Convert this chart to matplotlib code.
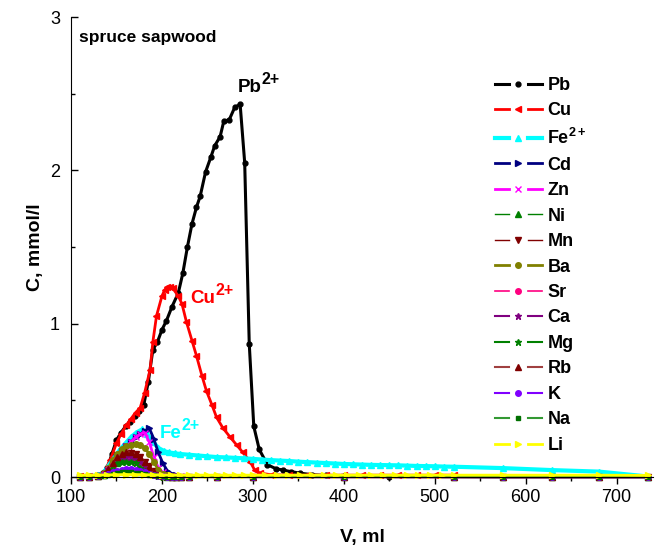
import matplotlib
matplotlib.use("Agg")
import matplotlib.pyplot as plt
from matplotlib.lines import Line2D
from matplotlib.legend_handler import HandlerBase

plt.rcParams['font.family'] = ['Liberation Sans', 'DejaVu Sans']
plt.rcParams['mathtext.fontset'] = 'custom'
plt.rcParams['mathtext.rm'] = 'Liberation Sans:bold'
plt.rcParams['mathtext.bf'] = 'Liberation Sans:bold'

# --- data (V in ml, C in mmol/l) ---
v_pb = [110, 120, 130, 136, 140, 145, 150, 155, 160, 165, 170, 175, 180, 185, 190,
        195, 200, 205, 211, 218, 223, 228, 233, 238, 242, 248, 254, 258, 264, 268,
        274, 280, 286, 291, 296, 301, 307, 316, 325, 333, 342, 352, 365, 380, 400,
        450, 521, 575, 629, 681, 735]
c_pb = [0.005, 0.005, 0.01, 0.03, 0.06, 0.15, 0.24, 0.29, 0.33, 0.36, 0.40, 0.43, 0.47, 0.62, 0.83,
        0.88, 0.96, 1.02, 1.11, 1.2, 1.33, 1.5, 1.65, 1.76, 1.83, 1.99, 2.09, 2.16, 2.22, 2.32,
        2.33, 2.41, 2.43, 2.05, 0.87, 0.33, 0.18, 0.08, 0.055, 0.045, 0.035, 0.025, 0.015, 0.01, 0.005,
        0.003, 0.002, 0.001, 0.001, 0.001, 0.001]

v_cu = [110, 120, 130, 137, 143, 150, 155, 161, 166, 171, 176, 181, 187, 190, 194,
        200, 203, 206, 209, 212, 218, 222, 227, 233, 238, 244, 249, 255, 260, 267,
        275, 282, 289, 297, 302, 308, 320, 340, 360, 380, 400, 420, 440, 460, 480,
        500, 521]
c_cu = [0.005, 0.005, 0.01, 0.04, 0.11, 0.22, 0.28, 0.34, 0.38, 0.42, 0.45, 0.55, 0.7, 0.88, 1.05,
        1.18, 1.22, 1.24, 1.24, 1.23, 1.18, 1.13, 1.01, 0.89, 0.79, 0.66, 0.56, 0.47, 0.39, 0.32,
        0.26, 0.21, 0.16, 0.1, 0.045, 0.025, 0.015, 0.012, 0.012, 0.012, 0.012, 0.012, 0.012, 0.012, 0.012,
        0.012, 0.012]

v_fe = [110, 120, 130, 136, 142, 148, 154, 160, 166, 172, 178, 184, 190, 196, 202,
        208, 214, 220, 230, 240, 250, 260, 270, 280, 290, 300, 310, 320, 330, 340,
        350, 360, 370, 380, 390, 400, 410, 420, 430, 440, 450, 460, 470, 480, 490,
        500, 510, 521, 575, 629, 681, 735]
c_fe = [0.005, 0.006, 0.01, 0.03, 0.08, 0.13, 0.18, 0.22, 0.26, 0.29, 0.31, 0.28, 0.23, 0.19, 0.17,
        0.16, 0.155, 0.15, 0.145, 0.14, 0.135, 0.13, 0.128, 0.125, 0.122, 0.118, 0.114, 0.11, 0.107, 0.104,
        0.1, 0.097, 0.094, 0.091, 0.088, 0.085, 0.083, 0.081, 0.079, 0.078, 0.077, 0.076, 0.074, 0.072, 0.071,
        0.07, 0.068, 0.067, 0.058, 0.045, 0.035, 0.003]

# minor elements share one volume grid
v_minor = [110, 120, 130, 136, 141, 146, 151, 156, 161, 166, 171, 176, 181, 186, 191,
           196, 201, 206, 211, 216, 221, 230, 260, 300, 400, 521, 575, 629, 681, 735]
c_cd = [0.003, 0.004, 0.006, 0.02, 0.05, 0.09, 0.13, 0.17, 0.2, 0.23, 0.26, 0.28, 0.3, 0.32, 0.25,
        0.16, 0.09, 0.04, 0.02, 0.01, 0.008, 0.005, 0.004, 0.003, 0.002, 0.002, 0.001, 0.001, 0.001, 0.001]
c_zn = [0.003, 0.004, 0.006, 0.02, 0.05, 0.09, 0.13, 0.17, 0.2, 0.23, 0.26, 0.28, 0.29, 0.23, 0.13,
        0.06, 0.03, 0.015, 0.008, 0.005, 0.004, 0.003, 0.002, 0.002, 0.001, 0.001, 0.001, 0.001, 0.001, 0.001]
c_ni = [0.002, 0.003, 0.005, 0.015, 0.04, 0.07, 0.09, 0.105, 0.11, 0.11, 0.1, 0.08, 0.06, 0.04, 0.02,
        0.01, 0.005, 0.003, 0.002, 0.002, 0.001, 0.001, 0.001, 0.001, 0.001, 0.001, 0.001, 0.001, 0.001, 0.001]
c_mn = [0.002, 0.003, 0.005, 0.02, 0.05, 0.09, 0.12, 0.14, 0.15, 0.155, 0.15, 0.13, 0.1, 0.07, 0.04,
        0.02, 0.01, 0.005, 0.003, 0.002, 0.001, 0.001, 0.001, 0.001, 0.001, 0.001, 0.001, 0.001, 0.001, 0.001]
c_ba = [0.003, 0.004, 0.006, 0.025, 0.06, 0.11, 0.15, 0.18, 0.2, 0.21, 0.215, 0.21, 0.19, 0.15, 0.1,
        0.045, 0.02, 0.01, 0.005, 0.003, 0.002, 0.001, 0.001, 0.001, 0.001, 0.001, 0.001, 0.001, 0.001, 0.001]
c_sr = [0.002, 0.003, 0.005, 0.02, 0.05, 0.08, 0.11, 0.12, 0.12, 0.115, 0.1, 0.08, 0.06, 0.04, 0.02,
        0.01, 0.005, 0.003, 0.002, 0.002, 0.001, 0.001, 0.001, 0.001, 0.001, 0.001, 0.001, 0.001, 0.001, 0.001]
c_ca = [0.002, 0.003, 0.005, 0.02, 0.05, 0.08, 0.11, 0.125, 0.13, 0.13, 0.12, 0.1, 0.07, 0.045, 0.025,
        0.012, 0.006, 0.003, 0.002, 0.002, 0.001, 0.001, 0.001, 0.001, 0.001, 0.001, 0.001, 0.001, 0.001, 0.001]
c_mg = [0.002, 0.003, 0.005, 0.015, 0.04, 0.07, 0.09, 0.1, 0.1, 0.095, 0.09, 0.06, 0.04, 0.025, 0.012,
        0.006, 0.003, 0.002, 0.001, 0.001, 0.001, 0.001, 0.001, 0.001, 0.001, 0.001, 0.001, 0.001, 0.001, 0.001]
c_rb = [0.002, 0.003, 0.005, 0.02, 0.05, 0.09, 0.13, 0.15, 0.16, 0.16, 0.15, 0.13, 0.1, 0.065, 0.035,
        0.015, 0.007, 0.004, 0.002, 0.002, 0.001, 0.001, 0.001, 0.001, 0.001, 0.001, 0.001, 0.001, 0.001, 0.001]
c_k = [0.002, 0.003, 0.004, 0.01, 0.02, 0.03, 0.04, 0.045, 0.05, 0.05, 0.045, 0.04, 0.03, 0.02, 0.01,
       0.006, 0.004, 0.003, 0.002, 0.002, 0.001, 0.001, 0.001, 0.001, 0.001, 0.001, 0.001, 0.001, 0.001, 0.001]
c_na = [0.002, 0.003, 0.004, 0.008, 0.015, 0.02, 0.025, 0.03, 0.03, 0.03, 0.028, 0.025, 0.02, 0.015, 0.01,
        0.006, 0.004, 0.003, 0.002, 0.002, 0.001, 0.001, 0.001, 0.001, 0.001, 0.001, 0.001, 0.001, 0.001, 0.001]

v_li = [110, 120, 130, 140, 150, 160, 170, 180, 190, 200, 210, 220, 230, 240, 250,
        260, 270, 280, 290, 300, 313, 326, 339, 352, 365, 378, 391, 404, 417, 430,
        443, 456, 469, 482, 495, 508, 521, 575, 629, 681, 735]
c_li = [0.012, 0.012, 0.013, 0.014, 0.015, 0.016, 0.016, 0.015, 0.014, 0.013, 0.012, 0.012, 0.012, 0.012, 0.012,
        0.012, 0.012, 0.012, 0.012, 0.012, 0.012, 0.012, 0.012, 0.012, 0.012, 0.012, 0.012, 0.012, 0.012, 0.012,
        0.012, 0.012, 0.012, 0.012, 0.012, 0.012, 0.012, 0.012, 0.012, 0.012, 0.01]


class GapHandler(HandlerBase):
    """ Legend entry drawn Origin-style: line, marker, line. """

    def create_artists(self, legend, orig_handle, xdescent, ydescent, width, height, fontsize, trans):
        y = height / 2 - ydescent
        x0 = -xdescent
        gap = width * 0.2
        left = Line2D([x0, x0 + width / 2 - gap], [y, y])
        right = Line2D([x0 + width / 2 + gap, x0 + width], [y, y])
        mark = Line2D([x0 + width / 2], [y])
        for a in (left, right, mark):
            self.update_prop(a, orig_handle, legend)
            a.set_transform(trans)
        left.set_marker('')
        right.set_marker('')
        mark.set_linestyle('none')
        return [left, right, mark]


def ion_label(x, y, base, charge, color):
    # base text with a large bold superscript glued to its right edge
    t = ax.text(x, y, base, fontsize=13.5, fontweight='bold', color=color)
    ax.annotate(charge, xy=(1, 0.55), xycoords=t, fontsize=11.5, fontweight='bold',
                color=color, ha='left', va='bottom')


fig = plt.figure(figsize=(6.55, 5.51), dpi=100)
ax = fig.add_axes([71 / 655, 74 / 551, 582 / 655, 460 / 551])

series = [
    ("Pb", v_pb, c_pb, "black", "black", "o", 2.2, 3.5),
    ("Cu", v_cu, c_cu, "#FF0000", "#FF0000", "<", 2.0, 4),
    ("Fe$^{2+}$", v_fe, c_fe, "#00FFFF", "#00FFFF", "^", 3.0, 4),
    ("Cd", v_minor, c_cd, "#000080", "#000080", ">", 2.0, 4),
    ("Zn", v_minor, c_zn, "#FF00FF", "#FF00FF", "x", 2.0, 4),
    ("Ni", v_minor, c_ni, "#008000", "#008000", "^", 1.0, 4),
    ("Mn", v_minor, c_mn, "#800000", "#800000", "v", 1.0, 4),
    ("Ba", v_minor, c_ba, "#808000", "#808000", "o", 2.0, 4),
    ("Sr", v_minor, c_sr, "#FF0080", "#FF0080", "o", 1.2, 4),
    ("Ca", v_minor, c_ca, "#800080", "#800080", "*", 1.5, 5),
    ("Mg", v_minor, c_mg, "#008000", "#008000", "*", 1.5, 5),
    ("Rb", v_minor, c_rb, "#A04040", "#800000", "^", 1.5, 4),
    ("K", v_minor, c_k, "#8000FF", "#8000FF", "o", 1.5, 4),
    ("Na", v_minor, c_na, "#339933", "#007000", "s", 1.5, 3.5),
    ("Li", v_li, c_li, "#FFFF00", "#FFFF00", ">", 2.0, 4),
]

handles = []
for name, v, c, lc, mc, mk, lw, ms in series:
    h, = ax.plot(v, c, color=lc, marker=mk, markerfacecolor=mc, markeredgecolor=mc,
                 linewidth=lw, markersize=ms, markeredgewidth=1, label=name, clip_on=False)
    handles.append(h)

ax.set_xlim(100, 740)
ax.set_ylim(0, 3)
ax.set_xticks([100, 200, 300, 400, 500, 600, 700])
ax.set_xticks([150, 250, 350, 450, 550, 650], minor=True)
ax.set_yticks([0, 1, 2, 3])
ax.set_yticks([0.5, 1.5, 2.5], minor=True)
ax.spines['top'].set_visible(False)
ax.spines['right'].set_visible(False)
ax.tick_params(axis='x', which='major', direction='out', length=5, width=1, labelsize=13, pad=4)
ax.tick_params(axis='x', which='minor', direction='out', length=3, width=1)
ax.tick_params(axis='y', which='major', direction='in', length=5, width=1, labelsize=13, pad=8)
ax.tick_params(axis='y', which='minor', direction='in', length=3, width=1)

ax.set_xlabel("V, ml", fontsize=14, fontweight='bold', labelpad=16)
ax.set_ylabel("C, mmol/l", fontsize=14, fontweight='bold', labelpad=4)

ax.text(0.014, 0.955, "spruce sapwood", transform=ax.transAxes, fontsize=12.5,
        fontweight='bold', va='center', ha='left')
ion_label(283, 2.51, "Pb", "2+", "black")
ion_label(231, 1.135, "Cu", "2+", "#FF0000")
ion_label(198, 0.255, "Fe", "2+", "#00FFFF")

leg = ax.legend(handles=handles, handler_map={Line2D: GapHandler()},
                loc='upper left', bbox_to_anchor=(495 / 655, 1 - 77 / 551),
                bbox_transform=fig.transFigure, frameon=False, borderpad=0,
                borderaxespad=0, handlelength=2.6, handletextpad=0.3,
                labelspacing=0.47, prop={'size': 13, 'weight': 'bold'})

fig.savefig("out.png", dpi=100)
